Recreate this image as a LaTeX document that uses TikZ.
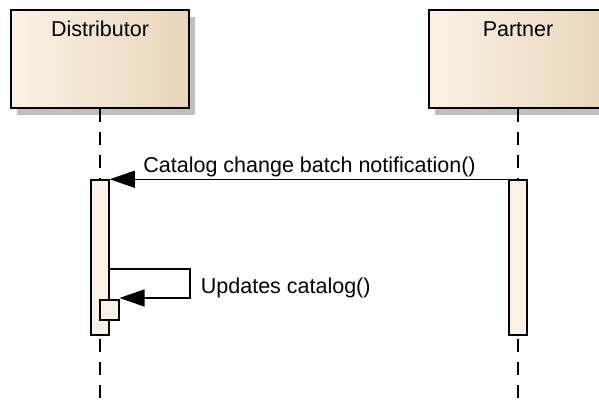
\documentclass[tikz,border=0pt]{standalone}
\usepackage{fontspec}
\setmainfont{Liberation Sans}
\usetikzlibrary{arrows.meta,shadows}
\definecolor{boxl}{RGB}{251,242,230}
\definecolor{boxr}{RGB}{232,214,186}
\definecolor{barfill}{RGB}{251,241,228}
\tikzset{
 actorbox/.style={draw=black, line width=1pt, minimum width=89pt, minimum height=49pt, inner sep=0pt,
   left color=boxl, middle color=boxl, right color=boxr,
   drop shadow={shadow xshift=3pt,shadow yshift=-3.5pt,fill=black!25,opacity=1}},
 lifeline/.style={line width=0.75pt, dash pattern=on 6.5pt off 5pt},
 actbar/.style={draw=black, line width=0.75pt, fill=barfill, minimum width=9pt, minimum height=77.5pt, inner sep=0pt},
 smallbar/.style={draw=black, line width=0.75pt, fill=barfill, minimum width=9.5pt, minimum height=10pt, inner sep=0pt},
 msg/.style={line width=0.75pt, -{Triangle[length=12.5pt,width=8.5pt]}},
 lbl/.style={inner sep=0pt, anchor=base west},
 namelbl/.style={inner sep=0pt, anchor=base},
}
\begin{document}
\begin{tikzpicture}[x=0.5pt,y=-0.5pt, font=\fontsize{10.75pt}{12pt}\selectfont]
\useasboundingbox (0,0) rectangle (599,401);
% actor boxes
\node[actorbox] (dist) at (100,59) {};
\node[actorbox] (part) at (518,59) {};
\node[namelbl] (distname) at (100,36.5) {Distributor};
\node[namelbl] (partname) at (518,36.5) {Partner};
% lifelines
\coordinate (distend) at (100,401);
\coordinate (partend) at (518,401);
\draw[lifeline] (dist.south) -- (distend);
\draw[lifeline] (part.south) -- (partend);
% activation bars
\node[actbar] (distbar) at (100,257.5) {};
\node[actbar] (partbar) at (518,257.5) {};
\node[smallbar] (small) at (109.5,310) {};
% message 1
\coordinate (m1s) at (partbar.north west);
\coordinate (m1e) at (distbar.north east);
\draw[msg] (m1s) -- (m1e);
\node[lbl] (m1lbl) at (143,172) {Catalog change batch notification()};
% self message
\coordinate (s1) at (109,269);
\coordinate (s2) at (190,269);
\coordinate (s3) at (190,298);
\coordinate (s4) at (119.5,298);
\draw[msg] (s1) -- (s2) -- (s3) -- (s4);
\node[lbl] (s1lbl) at (200.5,293) {Updates catalog()};
\end{tikzpicture}
\end{document}
